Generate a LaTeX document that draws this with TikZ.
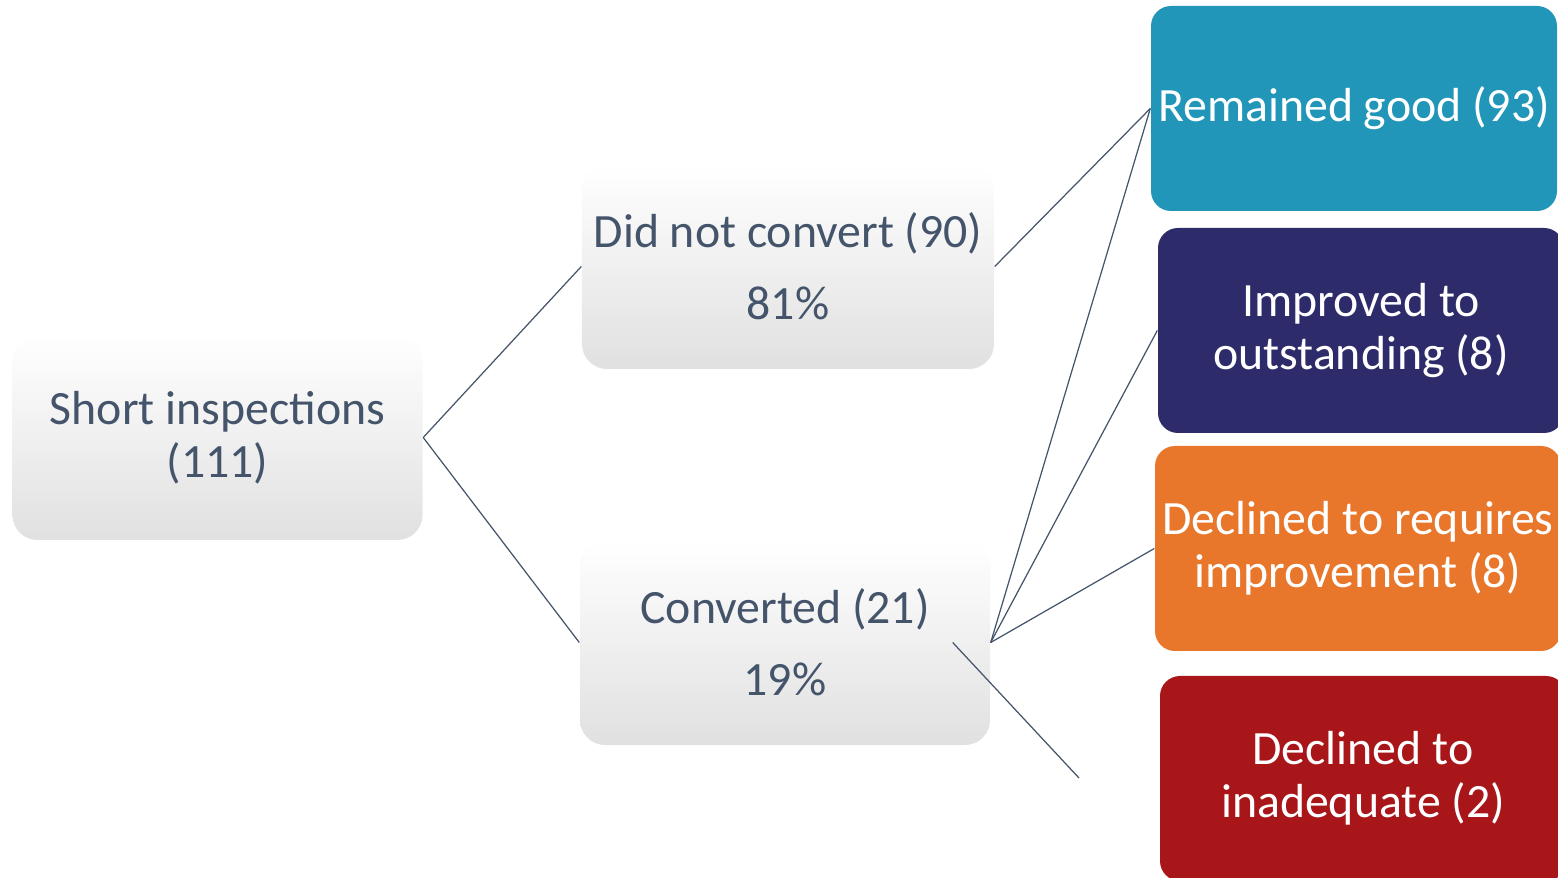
\documentclass[tikz,border=0pt]{standalone}
\usepackage{fontspec}
\setmainfont{Carlito}
\definecolor{slate}{HTML}{44546A}
\definecolor{goodblue}{HTML}{2196B9}
\definecolor{outnavy}{HTML}{2E2B6B}
\definecolor{reqorange}{HTML}{E8762B}
\definecolor{inadred}{HTML}{A8161A}
\begin{document}
\begin{tikzpicture}
  [every node/.style={align=center,font=\fontsize{13.6}{15.1}\selectfont},
   greybox/.style={rounded corners=0.25cm,minimum width=4.1cm,minimum height=2.05cm,
     top color=white,middle color=white,bottom color=black!12,text=slate},
   gradebox/.style={rounded corners=0.2cm,minimum width=4.06cm,minimum height=2.05cm,
     inner xsep=0pt,fill=#1,text=white},
   link/.style={slate,line width=0.35pt}]
  \useasboundingbox (0,0) rectangle (15.58,8.77);

  \node[greybox] (short) at (2.175,4.395) {Short inspections\\(111)};
  \node[greybox] (noconv) at (7.88,6.105) {Did not convert (90)\\[5.4pt]81\%};
  \node[greybox] (conv) at (7.85,2.345) {Converted (21)\\[5.4pt]19\%};

  \node[gradebox=goodblue] (good) at (13.54,7.685) {Remained good (93)};
  \node[gradebox=outnavy] (outst) at (13.61,5.465) {Improved to\\outstanding (8)};
  \node[gradebox=reqorange] (reqimp) at (13.58,3.285) {Declined to requires\\improvement (8)};
  \node[gradebox=inadred] (inad) at (13.63,0.985) {Declined to\\inadequate (2)};

  \coordinate (stub) at (10.79,0.99);

  \foreach \from/\to in {short.east/noconv.west, short.east/conv.west,
      noconv.east/good.west, conv.east/good.west, conv.east/outst.west,
      conv.east/reqimp.west}
    \draw[link] (\from) -- (\to);
  \draw[link] ([xshift=-0.38cm]conv.east) -- (stub);

\end{tikzpicture}
\end{document}
